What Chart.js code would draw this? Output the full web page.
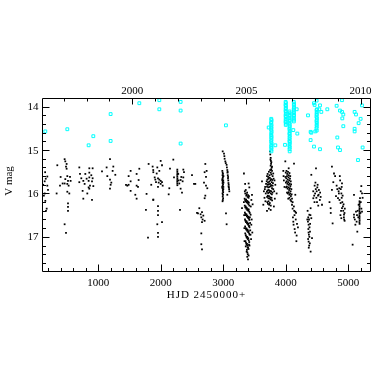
<!DOCTYPE html>
<html>
<head>
<meta charset="utf-8">
<script src="https://cdn.jsdelivr.net/npm/chart.js@4.4.1/dist/chart.umd.min.js"></script>
<style>
  html, body { margin: 0; padding: 0; background: #fff; }
  canvas { display: block; }
</style>
</head>
<body>
<canvas id="chart" width="392" height="392"></canvas>
<script>
// V band photometry, [HJD - 2450000, V mag], one array per observing season
const s1996 = [[120,15.80],[130,16.05],[143,15.72],[143,16.00],[150,15.51],[153,16.17],[160,15.66],[164,16.40],[175,16.35],[185,15.61],[185,15.82],[196,15.92]];
const s1997 = [[334,16.00],[345,15.35],[388,15.82],[398,15.62],[430,15.77],[462,15.21],[462,15.77],[462,16.71],[473,15.26],[473,15.67],[484,15.38],[484,16.91],[494,15.32],[494,15.43],[505,15.60],[505,15.78],[505,15.96],[516,15.71],[516,16.23],[516,16.31],[516,16.40],[526,15.82],[537,16.00],[548,15.62],[558,15.71]];
const s1998 = [[697,15.40],[697,15.74],[708,15.55],[729,15.65],[750,15.94],[761,15.71],[761,16.12],[782,15.78],[793,15.55],[814,15.66],[825,16.00],[846,15.71],[846,15.86],[857,15.42],[857,15.52],[857,15.63],[857,15.89],[868,15.82],[889,15.58],[900,15.72],[900,16.15],[910,15.42],[910,15.65],[921,15.83]];
const s1999 = [[1060,15.49],[1134,15.40],[1145,15.60],[1188,15.21],[1188,15.68],[1188,15.89],[1198,15.80],[1209,15.75],[1230,15.48],[1241,15.38],[1273,15.57]];
const s2000 = [[1444,15.80],[1465,15.82],[1486,15.60],[1486,15.80],[1518,15.48],[1518,15.72],[1518,15.94],[1593,16.03],[1614,15.55],[1614,15.82],[1614,16.12],[1636,15.85],[1646,15.69],[1657,15.43]];
const s2001 = [[1763,16.38],[1773,16.01],[1796,17.02],[1806,15.32],[1848,15.80],[1870,15.38],[1880,15.46],[1880,16.15],[1881,15.51],[1881,16.14],[1903,15.63],[1913,15.68],[1924,15.74],[1935,15.54],[1945,15.40],[1945,16.71],[1956,15.65],[1956,15.85],[1956,16.29],[1956,16.40],[1956,16.50],[1956,16.91],[1956,17.00],[1967,15.75],[1977,15.48],[1977,15.68],[1999,15.25],[1999,15.71],[1999,15.78],[2020,15.35],[2020,15.74],[2020,16.66],[2031,15.82]];
const s2002 = [[2127,16.02],[2137,15.88],[2148,15.43],[2201,15.22],[2212,15.63],[2264,15.57],[2264,15.73],[2265,15.45],[2265,15.49],[2265,15.61],[2265,15.69],[2265,15.77],[2266,15.53],[2266,15.65],[2266,15.81],[2280,15.55],[2285,15.70],[2297,15.77],[2308,16.38],[2318,15.69],[2318,15.89],[2329,15.62],[2340,15.98],[2350,15.72],[2361,15.45],[2361,15.63],[2372,15.51]];
const s2003 = [[2500,15.58],[2532,15.78],[2553,15.78],[2580,16.45],[2596,16.46],[2617,16.34],[2638,16.48],[2649,16.55],[2649,16.92],[2649,17.17],[2660,16.43],[2660,16.66],[2660,17.29],[2670,16.60],[2681,16.51],[2692,15.75],[2702,15.51],[2702,16.11],[2702,16.63],[2713,15.32],[2713,16.05],[2724,15.62],[2724,15.82],[2734,15.48],[2745,15.88]];
const s2004 = [[2985,15.48],[2990,15.52],[2995,15.55],[2988,15.58],[2998,15.61],[2992,15.64],[2986,15.67],[3000,15.70],[2994,15.73],[2989,15.76],[2997,15.79],[2991,15.82],[3002,15.85],[2987,15.88],[2996,15.91],[2993,15.94],[2999,15.97],[2988,16.00],[2995,16.03],[2991,16.07],[2998,16.11],[2993,16.15],[2989,16.18],[3003,15.60],[3004,15.75],[3001,15.90],[2984,15.70],[2983,15.85],
  [2991,15.03],[3012,15.08],[3018,15.14],[3022,15.20],[3033,15.26],[3040,15.30],[3054,15.34],[3058,15.40],[3065,15.46],[3068,15.52],[3072,15.58],[3076,15.65],[3080,15.70],[3083,15.76],[3087,15.80],[3090,15.86],[3094,15.90],[3097,15.95],[3065,16.03],[3044,16.46],[3054,16.71],[3078,15.62],[3085,15.84],[3070,15.50]];
const s2005 = [[3331,15.54],[3350,15.78],[3406,15.77],[3417,15.86],[3300,16.34],[3438,16.49],[3449,16.72],[3374,17.34],[3406,17.43],[3396,17.52],[3460,16.03],[3470,16.25],[3455,16.60],[3465,16.90],[3445,17.05],[3420,17.20],[3390,17.25],[3360,17.22],[3340,17.10],
  [3345,15.95],[3352,16.00],[3360,15.92],[3368,16.05],[3375,16.02],[3382,15.98],[3390,16.08],[3398,16.04],[3405,16.10],[3412,16.06],
  [3342,16.12],[3350,16.15],[3358,16.18],[3366,16.14],[3373,16.20],[3380,16.17],[3388,16.22],[3396,16.19],[3403,16.25],[3410,16.21],[3418,16.28],
  [3344,16.28],[3352,16.32],[3360,16.30],[3368,16.35],[3376,16.33],[3384,16.38],[3392,16.36],[3400,16.40],[3408,16.37],[3416,16.42],[3424,16.45],
  [3346,16.44],[3354,16.47],[3362,16.50],[3370,16.48],[3378,16.53],[3386,16.51],[3394,16.56],[3402,16.54],[3410,16.58],[3418,16.61],[3426,16.55],
  [3348,16.60],[3356,16.63],[3364,16.66],[3372,16.64],[3380,16.69],[3388,16.67],[3396,16.72],[3404,16.70],[3412,16.75],[3420,16.78],[3430,16.68],
  [3350,16.76],[3358,16.80],[3366,16.83],[3374,16.81],[3382,16.86],[3390,16.84],[3398,16.89],[3406,16.87],[3414,16.92],[3422,16.95],[3432,16.85],
  [3352,16.92],[3360,16.96],[3368,16.99],[3376,17.02],[3384,17.00],[3392,17.05],[3400,17.03],[3408,17.08],[3416,17.12],
  [3356,17.10],[3364,17.14],[3372,17.18],[3380,17.16],[3388,17.20],[3396,17.24],[3404,17.28],[3412,17.18],
  [3378,17.30],[3386,17.36],[3392,17.40],[3384,17.46],[3440,16.30],[3450,16.15],[3436,16.95],[3335,16.50],[3338,16.80],[3330,16.20]];
const s2006 = [[3748,15.03],[3759,15.18],[3752,15.10],[3762,15.25],[3755,15.22],[3765,15.32],[3770,15.28],[3758,15.36],[3775,15.40],[3768,15.44],[3780,15.38],
  [3700,15.60],[3710,15.55],[3720,15.62],[3730,15.50],[3740,15.58],[3750,15.46],[3760,15.52],[3770,15.56],[3780,15.48],[3790,15.60],[3800,15.54],
  [3695,15.72],[3705,15.68],[3715,15.75],[3725,15.66],[3735,15.73],[3745,15.64],[3755,15.70],[3765,15.67],[3775,15.74],[3785,15.69],[3795,15.76],[3805,15.66],
  [3700,15.84],[3710,15.80],[3720,15.86],[3730,15.79],[3740,15.85],[3750,15.78],[3760,15.83],[3770,15.81],[3780,15.88],[3790,15.82],[3800,15.90],
  [3698,15.96],[3708,15.93],[3718,15.99],[3728,15.92],[3738,15.97],[3748,15.94],[3758,16.00],[3768,15.95],[3778,16.02],[3788,15.98],
  [3702,16.08],[3712,16.05],[3722,16.11],[3732,16.06],[3742,16.12],[3752,16.09],[3762,16.14],[3772,16.10],[3782,16.16],
  [3705,16.20],[3715,16.24],[3725,16.18],[3735,16.26],[3745,16.22],[3760,16.28],
  [3620,15.72],[3641,16.26],[3650,15.95],[3660,16.10],[3670,15.85],[3680,16.00],[3685,15.78],[3675,16.18],[3665,15.90],
  [3833,15.80],[3854,16.00],[3820,15.70],[3815,15.95],[3825,16.12],[3810,16.30],[3759,16.38],[3730,16.35],[3700,16.40]];
const s2007 = [[3993,15.26],[4132,15.31],[3961,15.48],[4047,15.42],
  [4000,15.52],[4012,15.48],[4024,15.55],[4036,15.50],[4048,15.58],[4060,15.53],[4072,15.60],
  [3995,15.62],[4008,15.65],[4020,15.60],[4032,15.68],[4044,15.63],[4056,15.70],[4068,15.66],[4080,15.72],
  [4002,15.75],[4014,15.72],[4026,15.78],[4038,15.74],[4050,15.80],[4062,15.77],[4074,15.83],[4086,15.79],
  [4006,15.86],[4018,15.84],[4030,15.89],[4042,15.86],[4054,15.92],[4066,15.88],[4078,15.95],[4090,15.90],
  [4020,15.98],[4034,16.00],[4046,15.97],[4058,16.03],[4070,16.00],[4082,16.06],[4094,16.02],
  [4040,16.12],[4060,16.10],[4075,16.15],[4088,16.18],[4100,16.12],
  [4100,16.26],[4153,16.03],[4153,16.42],[4121,16.65],[4142,16.82],[4174,16.97],[4195,16.78],[4110,16.35],[4130,16.30],[4140,16.50],[4115,16.55],[4160,16.60],[4125,16.72],[4150,16.90],[4170,17.10],[4110,16.20],[4135,16.40],[4165,16.45],[4180,16.70],[3970,15.70],[3980,15.85],[3965,15.60]];
const s2008 = [[4409,15.57],[4484,15.42],[4462,15.82],[4505,15.86],[4526,16.03],[4558,16.08],[4580,16.26],[4441,16.11],[4398,16.34],[4377,16.49],[4409,16.57],[4366,16.72],[4388,16.88],[4420,17.03],[4366,17.11],[4398,17.34],[4516,16.05],
  [4480,15.90],[4495,15.95],[4470,16.00],[4510,15.80],[4530,15.92],[4545,16.15],[4490,16.10],[4460,16.20],[4475,15.75],[4500,16.20],[4520,16.28],[4550,15.98],[4440,15.95],[4455,16.05],
  [4350,16.40],[4360,16.55],[4372,16.60],[4355,16.65],[4380,16.78],[4362,16.82],[4370,16.95],[4378,17.00],[4358,17.05],[4385,17.15],[4375,17.20],[4365,16.90],[4390,16.70],[4395,16.50],[4345,16.60],[4368,17.25]];
const s2009 = [[4739,15.38],[4772,15.54],[4761,15.74],[4739,15.92],[4804,16.06],[4846,15.95],[4836,16.11],[4878,16.22],[4900,16.34],[4932,16.49],[4889,16.57],[4750,16.69],[4942,16.63],[4900,15.77],[4814,15.82],[4857,15.88],[4718,16.34],
  [4870,15.70],[4880,15.90],[4890,16.00],[4895,16.10],[4905,16.20],[4910,16.05],[4915,16.30],[4920,16.40],[4925,16.25],[4885,16.40],[4875,16.50],[4930,16.55],[4940,16.45],[4895,15.85],[4860,16.15],[4825,15.90],[4850,16.00],[4700,16.20],[4720,16.45],[4790,15.60],[4865,15.60],[4935,16.60],[4945,16.35]];
const s2010 = [[5209,15.83],[5092,16.03],[5220,16.00],[5188,16.11],[5166,16.26],
  [5180,16.18],[5182,16.22],[5179,16.26],[5181,16.30],[5180,16.34],[5178,16.38],[5182,16.42],[5180,16.46],[5179,16.50],[5181,16.54],[5180,16.58],[5182,16.62],[5179,16.66],[5181,16.70],
  [5124,16.42],[5092,16.49],[5220,16.42],[5134,16.65],[5114,16.72],[5145,16.88],[5070,17.18],[5092,16.55],[5200,16.20],[5210,16.35],[5150,16.40],[5140,16.50],[5160,16.55],[5105,16.60],[5195,16.45],[5230,16.10],[5200,15.95]];

// cyan open squares (isolated ones, then the densely sampled runs)
const limitSingles = [[153,14.57],[505,14.52],[846,14.89],[921,14.68],[1198,14.17],[1198,14.79],[1657,13.92],[1977,13.85],[1977,14.06],[2318,13.89],[2318,14.09],[2318,14.85],[3043,14.43],[3727,14.48],[3833,14.89],[3988,14.88],[4121,14.54],[4175,14.06],[4185,14.62],[4356,14.20],[4398,14.58],[4398,14.77],[4409,14.60],[4452,13.92],[4452,14.92],[4462,13.96],[4473,14.57],[4494,13.86],[4500,14.06],[4537,14.06],[4548,13.97],[4548,14.98],[4569,14.12],[4665,14.06],[4814,13.98],[4825,14.71],[4836,14.94],[4868,15.00],[4868,14.09],[4900,13.85],[4900,14.12],[4905,14.27],[4921,14.18],[4921,14.45],[5102,14.12],[5102,14.51],[5102,14.57],[5124,14.18],[5156,15.23],[5166,14.38],[5198,14.28],[5220,13.97],[5230,14.94]];
const limitRun3770 = [[3768,14.28],[3772,14.31],[3770,14.35],[3766,14.38],[3772,14.42],[3769,14.46],[3771,14.50],[3767,14.53],[3773,14.57],[3770,14.61],[3768,14.65],[3772,14.69],[3769,14.72],[3771,14.76],[3767,14.80],[3773,14.84],[3770,14.88],[3768,14.92],[3772,14.95],[3769,14.99],[3771,15.03]];
const limitRun4000 = [[3998,13.89],[4002,13.92],[3996,13.96],[4003,13.99],[3999,14.03],[4001,14.06],[3997,14.10],[4003,14.13],[4000,14.17],[3998,14.21],[4002,14.24],[3999,14.28],[4001,14.32],[3997,14.35],[4002,14.39],[4000,14.42]];
const limitRun4062 = [[4060,14.11],[4064,14.15],[4061,14.19],[4063,14.22],[4059,14.26],[4065,14.30],[4062,14.33],[4060,14.37],[4064,14.41],[4061,14.45],[4063,14.48],[4059,14.52],[4065,14.56],[4062,14.60],[4060,14.63],[4064,14.67],[4061,14.71],[4063,14.75],[4059,14.79],[4065,14.82],[4062,14.86],[4060,14.90],[4064,14.94],[4061,14.98],[4063,15.03]];
const limitRun4130 = [[4128,13.89],[4132,13.93],[4129,13.96],[4133,14.00],[4130,14.04],[4127,14.07],[4131,14.11],[4129,14.15],[4133,14.19],[4130,14.22],[4128,14.26],[4132,14.30],[4130,14.34]];
const limitRun4495 = [[4493,14.08],[4497,14.12],[4494,14.16],[4496,14.19],[4492,14.23],[4498,14.27],[4495,14.31],[4493,14.34],[4497,14.38],[4494,14.42],[4496,14.46],[4492,14.50],[4495,14.55]];

// axes
const xRange = [100, 5364];
const magRange = [13.8, 17.81];
const xLabels = [1000, 2000, 3000, 4000, 5000];
const magLabels = [14, 15, 16, 17];
const yearTicks = [1997, 1998, 1999, 2000, 2001, 2002, 2003, 2004, 2005, 2006, 2007, 2008, 2009, 2010];
const yearLabels = [2000, 2005, 2010];

// calendar year of an HJD-2450000 value (2000.0 = 1544.5)
const toYear = (d) => 2000 + (d - 1544.5) / 365.25;

const toXY = (arr) => arr.map(([x, y]) => ({ x, y }));
const detections = toXY([].concat(s1996, s1997, s1998, s1999, s2000, s2001, s2002, s2003, s2004, s2005, s2006, s2007, s2008, s2009, s2010));
const limits = toXY([].concat(limitSingles, limitRun3770, limitRun4000, limitRun4062, limitRun4130, limitRun4495));

const FONT = "11px 'Liberation Serif', 'DejaVu Serif', serif";

// PGPLOT-like box: inward ticks on all four sides, labels outside
const boxAxes = {
  id: "boxAxes",
  afterDatasetsDraw(chart) {
    const { ctx, chartArea: a, scales } = chart;
    const L = a.left + 0.5, R = a.right - 0.5, T = a.top + 0.5, B = a.bottom - 0.5;
    ctx.save();
    ctx.strokeStyle = "#000";
    ctx.lineWidth = 1;
    ctx.beginPath();
    ctx.rect(L, T, R - L, B - T);

    for (let v = 200; v <= 5200; v += 200) {
      const px = Math.round(scales.x.getPixelForValue(v)) + 0.5;
      const len = v % 1000 === 0 ? 7 : 3.5;
      ctx.moveTo(px, B);
      ctx.lineTo(px, B - len);
    }
    yearTicks.forEach((yr) => {
      const px = Math.round(scales.xTop.getPixelForValue(yr)) + 0.5;
      const len = yearLabels.includes(yr) ? 6 : 3;
      ctx.moveTo(px, T);
      ctx.lineTo(px, T + len);
    });
    for (let t = 140; t <= 176; t += 2) {
      const py = Math.round(scales.y.getPixelForValue(t / 10)) + 0.5;
      const len = t % 10 === 0 ? 7 : 3.5;
      ctx.moveTo(L, py);
      ctx.lineTo(L + len, py);
      ctx.moveTo(R, py);
      ctx.lineTo(R - len, py);
    }
    ctx.stroke();

    ctx.fillStyle = "#000";
    ctx.font = FONT;
    ctx.textAlign = "center";
    ctx.textBaseline = "alphabetic";
    xLabels.forEach((v) => ctx.fillText(String(v), scales.x.getPixelForValue(v), 285.5));
    yearLabels.forEach((yr) => ctx.fillText(String(yr), scales.xTop.getPixelForValue(yr), 93.5));

    ctx.textAlign = "right";
    magLabels.forEach((m) => ctx.fillText(String(m), 38.5, scales.y.getPixelForValue(m) + 3.5));

    ctx.textAlign = "center";
    ctx.letterSpacing = "1px";
    ctx.fillText("HJD 2450000+", (a.left + a.right) / 2, 297.5);
    ctx.letterSpacing = "0px";

    ctx.translate(12, (a.top + a.bottom) / 2 - 4);
    ctx.rotate(-Math.PI / 2);
    ctx.fillText("V mag", 0, 0);
    ctx.restore();
  },
};

new Chart(document.getElementById("chart"), {
  type: "scatter",
  data: {
    datasets: [
      {
        label: "limits",
        data: limits,
        pointStyle: "rect",
        pointRadius: 2,
        borderColor: "#00ffff",
        borderWidth: 1,
        backgroundColor: "rgba(0,0,0,0)",
      },
      {
        label: "V",
        data: detections,
        pointStyle: "rect",
        pointRadius: 1.25,
        borderWidth: 0,
        backgroundColor: "#000",
      },
    ],
  },
  options: {
    responsive: false,
    animation: false,
    events: [],
    layout: { padding: { left: 42, right: 21, top: 98, bottom: 120 } },
    plugins: { legend: { display: false }, tooltip: { enabled: false } },
    scales: {
      x: { type: "linear", min: xRange[0], max: xRange[1], display: false },
      xTop: { type: "linear", position: "top", min: toYear(xRange[0]), max: toYear(xRange[1]), display: false },
      y: { type: "linear", min: magRange[0], max: magRange[1], reverse: true, display: false },
    },
  },
  plugins: [boxAxes],
});
</script>
</body>
</html>
